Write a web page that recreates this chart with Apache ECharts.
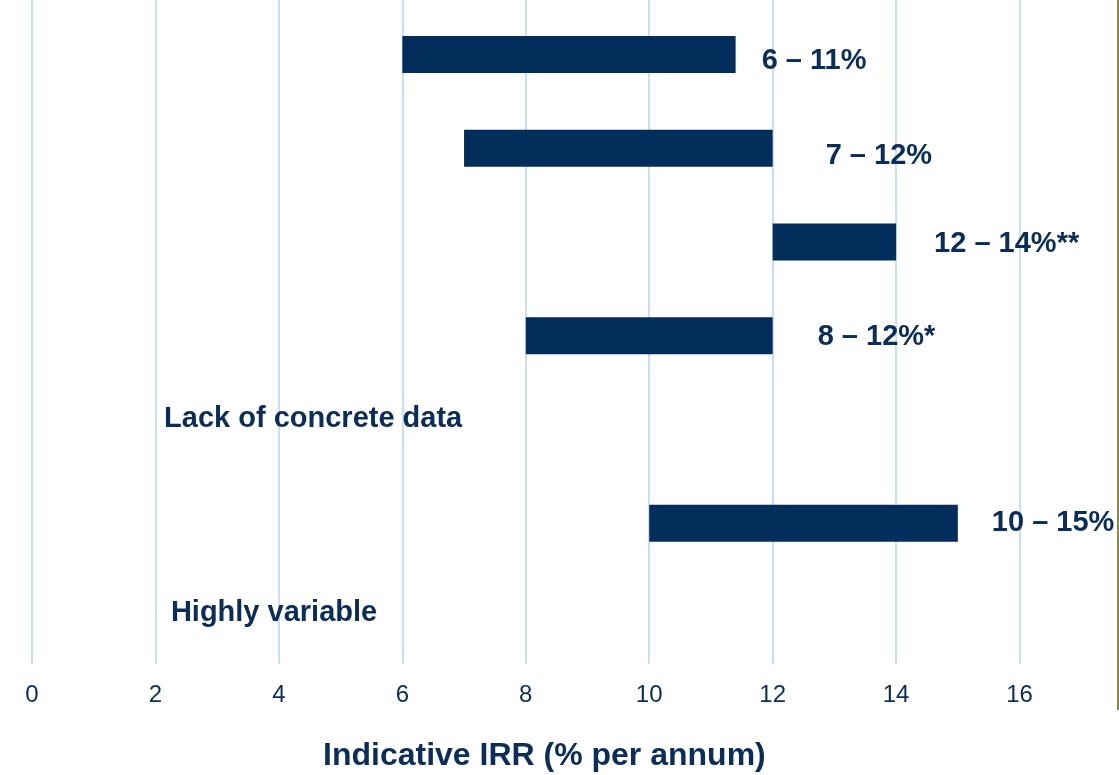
<!DOCTYPE html>
<html>
<head>
<meta charset="utf-8">
<title>Indicative IRR</title>
<script src="https://cdn.jsdelivr.net/npm/echarts@6/dist/echarts.min.js"></script>
<style>
  html, body { margin: 0; padding: 0; background: #fff; }
  #chart { width: 1119px; height: 775px; }
</style>
</head>
<body>
<div id="chart"></div>
<script>
// rows from top to bottom
var rows = ["r1", "r2", "r3", "r4", "r5", "r6", "r7"];
var lowValues = [6, 7, 12, 8, null, 10, null];
var highValues = [11.4, 12, 14, 12, null, 15, null];
var rangeLabels = ["6 – 11%", "7 – 12%", "12 – 14%**", "8 – 12%*", "", "10 – 15%", ""];
var noteTexts = [null, null, null, null, "Lack of concrete data", null, "Highly variable"];
var noteAt = [null, null, null, null, 2.14, null, 2.25];
var xTicks = [0, 2, 4, 6, 8, 10, 12, 14, 16];
var axisTitle = "Indicative IRR (% per annum)";

// label nudges, px [dx, dy]
var labelOffsets = [[26, 7], [53, 8], [38, 2], [45, 1], [0, 0], [34, 0], [0, 0]];
var noteOffsets = [[0, 0], [0, 0], [0, 0], [0, 0], [0, -11], [0, 0], [0, -4]];

var navy = "#032d5b";
var textColor = "#0a2d5a";
var font = "Liberation Sans, Arial, sans-serif";

var chart = echarts.init(document.getElementById("chart"));

var spanData = highValues.map(function (h, i) {
  if (h == null) return null;
  return {
    value: h - lowValues[i],
    label: {
      show: true,
      position: "right",
      distance: 0,
      offset: labelOffsets[i],
      formatter: rangeLabels[i]
    }
  };
});

var noteData = [];
noteTexts.forEach(function (t, i) {
  if (t == null) return;
  noteData.push({
    value: [noteAt[i], rows[i]],
    label: { show: true, position: "right", distance: 0, offset: noteOffsets[i], formatter: t }
  });
});

var xBase = {
  type: "value",
  min: 0,
  max: 18,
  interval: 2,
  axisLine: { show: false },
  axisTick: { show: false }
};

var option = {
  animation: false,
  title: {
    text: axisTitle,
    left: 323,
    top: 740,
    padding: 0,
    textStyle: {
      fontFamily: font,
      fontSize: 32,
      fontWeight: "bold",
      color: textColor
    }
  },
  // thin frame edge on the right of the original picture
  graphic: [{
    type: "rect",
    right: 0,
    top: 0,
    shape: { width: 2, height: 710 },
    style: { fill: "#8a8a4e" },
    silent: true
  }],
  grid: [
    // gridlines + tick labels, full height
    { left: 32, right: -24, top: 0, bottom: 111, outerBoundsMode: "none" },
    // bars
    { left: 32, right: -24, top: 7.6, bottom: 111, outerBoundsMode: "none" }
  ],
  xAxis: [
    Object.assign({}, xBase, {
      gridIndex: 0,
      axisLabel: {
        margin: 19,
        fontFamily: font,
        fontSize: 24,
        color: textColor,
        formatter: function (v) { return xTicks.indexOf(v) >= 0 ? String(v) : ""; }
      },
      splitLine: {
        show: true,
        lineStyle: { color: "#c9def8", width: 2 }
      }
    }),
    Object.assign({}, xBase, {
      gridIndex: 1,
      axisLabel: { show: false },
      splitLine: { show: false }
    })
  ],
  yAxis: [
    { gridIndex: 0, type: "category", data: rows, show: false },
    { gridIndex: 1, type: "category", inverse: true, data: rows, show: false }
  ],
  series: [
    {
      name: "base",
      type: "bar",
      xAxisIndex: 1,
      yAxisIndex: 1,
      stack: "irr",
      barWidth: 37,
      silent: true,
      itemStyle: { color: "transparent" },
      data: lowValues
    },
    {
      name: "range",
      type: "bar",
      xAxisIndex: 1,
      yAxisIndex: 1,
      stack: "irr",
      barWidth: 37,
      itemStyle: { color: navy },
      label: {
        fontFamily: font,
        fontSize: 29,
        fontWeight: "bold",
        color: textColor
      },
      data: spanData
    },
    {
      name: "notes",
      type: "scatter",
      xAxisIndex: 1,
      yAxisIndex: 1,
      symbolSize: 0,
      silent: true,
      itemStyle: { opacity: 1 },
      label: {
        fontFamily: font,
        fontSize: 29,
        fontWeight: "bold",
        color: textColor
      },
      data: noteData
    }
  ]
};

chart.setOption(option);
window.addEventListener("resize", function () {
  chart.resize();
});
</script>
</body>
</html>
